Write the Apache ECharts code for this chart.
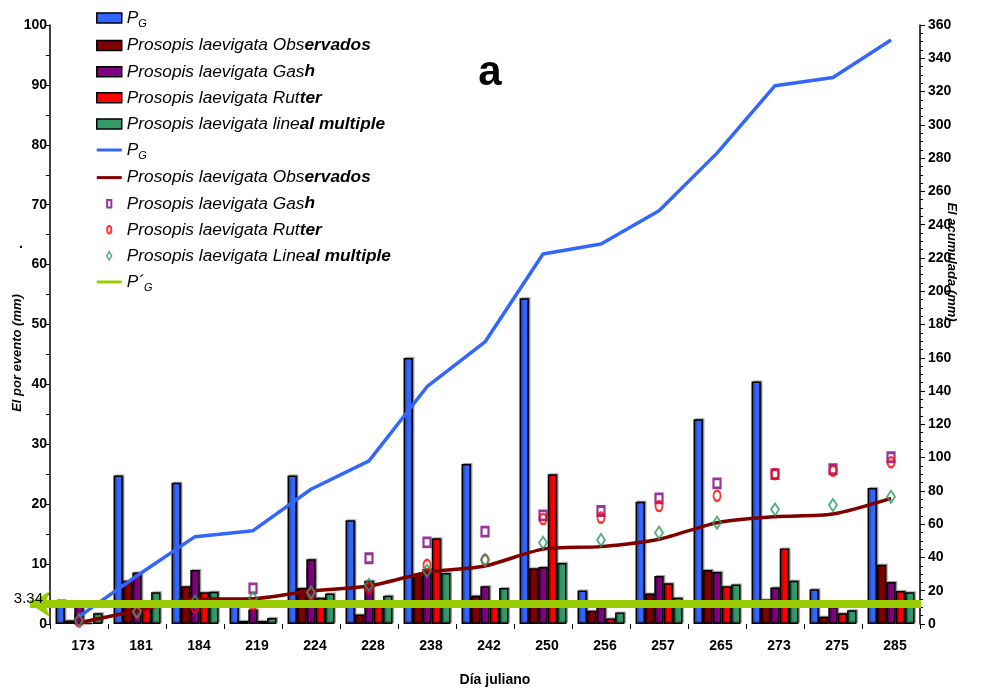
<!DOCTYPE html>
<html><head><meta charset="utf-8">
<script src="https://cdn.jsdelivr.net/npm/echarts@6/dist/echarts.min.js"></script>
<style>html,body{margin:0;padding:0;background:#fff}#c{width:988px;height:690px}</style>
</head><body><div id="c"></div>
<script>
// ---- data ----
const categories = ['173','181','184','219','224','228','238','242','250','256','257','265','273','275','285'];
// per-event values (left axis, mm)
const pgEvent    = [4.0, 24.8, 23.6, 3.8, 24.8, 17.3, 44.4, 26.7, 54.4, 5.6, 20.4, 34.2, 40.5, 5.8, 22.7];
const observados = [0.6, 7.2, 6.3, 0.5, 6.0, 1.6, 8.3, 4.7, 9.3, 2.2, 5.1, 9.0, 4.1, 1.2, 9.9];
const gash       = [3.5, 8.6, 9.0, 2.4, 10.8, 7.2, 9.2, 6.3, 9.5, 2.9, 8.0, 8.7, 6.1, 2.9, 7.0];
const rutter     = [0.2, 3.8, 5.3, 0.5, 4.4, 2.9, 14.3, 2.9, 25.0, 0.9, 6.8, 6.3, 12.6, 1.8, 5.5];
const lineal     = [1.8, 5.3, 5.4, 1.0, 5.1, 4.7, 8.5, 6.0, 10.2, 1.9, 4.4, 6.6, 7.2, 2.3, 5.3];
// accumulated values (right axis, mm)
const pgCum      = [4.4, 29, 52.5, 56.1, 81, 98, 142.6, 169.5, 222.4, 228.4, 248.4, 283, 323.5, 328.5, 351];
const obsCum     = [0.8, 8, 15, 15.2, 19.8, 22.8, 31, 34.9, 45, 46.5, 50.9, 60.9, 64.5, 66.1, 75.5];
const gashCum    = [3, 12, 21, 21.4, 30, 39.5, 49.1, 55.5, 65.3, 67.9, 75.5, 84.5, 90.1, 93, 100.2];
const rutterCum  = [1.5, 7, 10, 11.5, 18, 21.5, 35.5, 38.5, 63.1, 63.9, 70.9, 77.1, 90.1, 92.1, 97.2];
const linealCum  = [2.4, 7.4, 13.4, 15.6, 19, 23.4, 32, 38.5, 48.9, 50.5, 54.9, 60.9, 68.9, 71.5, 76.5];
const pPrimeG = 3.34;
const leftAxisTicks  = {min: 0, max: 100, interval: 10};
const rightAxisTicks = {min: 0, max: 360, interval: 20};

const FF = '"Liberation Sans", Arial, sans-serif';
const C = {blue:'#3366FF', dred:'#800000', purple:'#800080', red:'#FF0000', green:'#339966', lime:'#99CC00'};

function barStyle(color){
  return {color, borderColor:'#000', borderWidth:1.5, shadowColor:'rgba(0,0,0,0.35)', shadowBlur:1, shadowOffsetX:1.5, shadowOffsetY:-1};
}
function bar(name, data, color){
  return {name, type:'bar', yAxisIndex:0, data, barGap:'0%', barCategoryGap:'19%', itemStyle:barStyle(color), z:2, silent:true};
}

const legendText = {
  PG_bar: '{i|P}{s|G}',
  OBS_bar: '{i|Prosopis laevigata Obs}{b|ervados}',
  GASH_bar: '{i|Prosopis laevigata Gas}{b|h}',
  RUT_bar: '{i|Prosopis laevigata Rut}{b|ter}',
  LIN_bar: '{i|Prosopis laevigata line}{b|al multiple}',
  PG_line: '{i|P}{s|G}',
  OBS_line: '{i|Prosopis laevigata Obs}{b|ervados}',
  GASH_sc: '{i|Prosopis laevigata Gas}{b|h}',
  RUT_sc: '{i|Prosopis laevigata Rut}{b|ter}',
  LIN_sc: '{i|Prosopis laevigata Line}{b|al multiple}',
  PPG: '{i|P´}{s|G}'
};
const lineIcon = 'path://M0,0L25,0L25,3L0,3Z';
const sqIcon = 'path://M0,0M10,12M2.5,1.5L7.5,1.5L7.5,10.5L2.5,10.5Z';
const ciIcon = 'path://M0,0M10,12M5,1.5A2.5,4.5 0 1,1 5,10.5A2.5,4.5 0 1,1 5,1.5Z';
const diIcon = 'path://M0,0M10,12M5,1L8,6L5,11L2,6Z';

const chart = echarts.init(document.getElementById('c'), null, {renderer:'canvas'});
const option = {
  animation:false,
  backgroundColor:'#fff',
  grid:{left:50, right:68, top:25, bottom:66, containLabel:false, outerBoundsMode:'none'},
  legend:{
    orient:'vertical', left:91, top:3, itemWidth:25, itemHeight:10, itemGap:6.1,
    selectedMode:false, icon:'rect',
    itemStyle:{borderWidth:1.5},
    textStyle:{fontFamily:FF, fontSize:17.3, fontStyle:'italic', color:'#000', lineHeight:20,
      rich:{
        i:{fontFamily:FF, fontSize:17.3, fontStyle:'italic', color:'#000', lineHeight:20},
        b:{fontFamily:FF, fontSize:17.3, fontStyle:'italic', fontWeight:'bold', color:'#000', lineHeight:20},
        s:{fontFamily:FF, fontSize:11, fontStyle:'italic', color:'#000', height:8, verticalAlign:'bottom', lineHeight:20}
      }},
    formatter: n => legendText[n],
    data:[
      {name:'PG_bar'},{name:'OBS_bar'},{name:'GASH_bar'},{name:'RUT_bar'},{name:'LIN_bar'},
      {name:'PG_line', icon:lineIcon, itemStyle:{color:C.blue, borderWidth:0}},
      {name:'OBS_line', icon:lineIcon, itemStyle:{color:C.dred, borderWidth:0}},
      {name:'GASH_sc', icon:sqIcon, itemStyle:{color:'#fff', borderColor:C.purple, borderWidth:2}},
      {name:'RUT_sc', icon:ciIcon, itemStyle:{color:'#fff', borderColor:C.red, borderWidth:2}},
      {name:'LIN_sc', icon:diIcon, itemStyle:{color:'#fff', borderColor:C.green, borderWidth:1.5}},
      {name:'PPG', icon:lineIcon, itemStyle:{color:C.lime, borderWidth:0}}
    ]
  },
  xAxis:{
    type:'category', data:categories, boundaryGap:true,
    axisLine:{show:false},
    axisTick:{show:true, length:5, lineStyle:{color:'#000', width:1}},
    axisLabel:{color:'#000', fontFamily:FF, fontWeight:'bold', fontSize:14, margin:15, padding:[0,0,0,8]},
    splitLine:{show:false}
  },
  yAxis:[
    {type:'value', position:'left', min:leftAxisTicks.min, max:leftAxisTicks.max, interval:leftAxisTicks.interval,
     axisLine:{show:true, lineStyle:{color:'#000', width:1.5}},
     axisTick:{show:true, length:4, lineStyle:{color:'#000', width:1}},
     minorTick:{show:true, splitNumber:2, length:4, lineStyle:{color:'#000', width:1}},
     axisLabel:{color:'#000', fontFamily:FF, fontWeight:'bold', fontSize:14, margin:3},
     splitLine:{show:false}},
    {type:'value', position:'right', min:rightAxisTicks.min, max:rightAxisTicks.max, interval:rightAxisTicks.interval,
     axisLine:{show:true, lineStyle:{color:'#000', width:1.5}},
     axisTick:{show:true, length:5, lineStyle:{color:'#000', width:1}},
     minorTick:{show:true, splitNumber:4, length:3, lineStyle:{color:'#000', width:1}},
     axisLabel:{color:'#000', fontFamily:FF, fontWeight:'bold', fontSize:14, margin:8},
     splitLine:{show:false}}
  ],
  series:[
    bar('PG_bar', pgEvent, C.blue),
    bar('OBS_bar', observados, C.dred),
    bar('GASH_bar', gash, C.purple),
    bar('RUT_bar', rutter, C.red),
    bar('LIN_bar', lineal, C.green),
    {name:'GASH_sc', type:'scatter', yAxisIndex:1, data:gashCum, symbol:'rect', symbolSize:[7,9], z:1, silent:true,
     itemStyle:{color:'#fff', borderColor:C.purple, borderWidth:2.5}},
    {name:'PG_line', type:'line', yAxisIndex:1, data:pgCum, symbol:'none', color:C.blue, z:3, silent:true,
     lineStyle:{color:C.blue, width:3.5}},
    {name:'OBS_line', type:'line', yAxisIndex:1, data:obsCum, symbol:'none', smooth:0.25, color:C.dred, z:3, silent:true,
     lineStyle:{color:C.dred, width:3.5}},
    {name:'RUT_sc', type:'scatter', yAxisIndex:1, data:rutterCum, symbol:'circle', symbolSize:[7,10], z:4, silent:true,
     itemStyle:{color:'rgba(255,255,255,0)', borderColor:C.red, borderWidth:2.2}},
    {name:'LIN_sc', type:'scatter', yAxisIndex:1, data:linealCum, symbol:'diamond', symbolSize:[8,12], z:4, silent:true,
     itemStyle:{color:'rgba(255,255,255,0)', borderColor:C.green, borderWidth:2}},
    {name:'PPG', type:'line', yAxisIndex:0, data:[], color:C.lime, z:5, silent:true,
     lineStyle:{color:C.lime, width:3},
     markLine:{silent:true, animation:false, symbol:['arrow','none'], symbolSize:20,
       lineStyle:{color:C.lime, width:8, type:'solid', opacity:1},
       itemStyle:{color:C.lime},
       label:{show:false}, emphasis:{disabled:true},
       data:[[{coord:[0, pPrimeG], x:30, symbol:'arrow', symbolSize:20}, {coord:[categories.length-1, pPrimeG], x:921, symbol:'none'}]]}}
  ]
};
chart.setOption(option);

const yP = chart.convertToPixel({yAxisIndex:0}, pPrimeG);
function txt(text, x, y, font, rot, align){
  return {type:'text', x, y, rotation:rot||0, silent:true, z:10,
    style:{text, font, fill:'#000', align:align||'center', verticalAlign:'middle', textAlign:align||'center', textVerticalAlign:'middle'}};
}
chart.setOption({graphic:[
  txt('a', 490, 73, 'bold 42px ' + FF),
  txt('Día juliano', 495, 680, 'bold 14px ' + FF),
  txt('El por evento (mm)', 17.5, 353, 'italic bold 13px ' + FF, Math.PI/2),
  txt('El acumulada (mm)', 952, 262, 'italic bold 13px ' + FF, -Math.PI/2),
  txt('.', 21, 244, 'bold 14px ' + FF),
  txt('3.34', 43, yP - 5, '15px ' + FF, 0, 'right')
]});
</script></body></html>
